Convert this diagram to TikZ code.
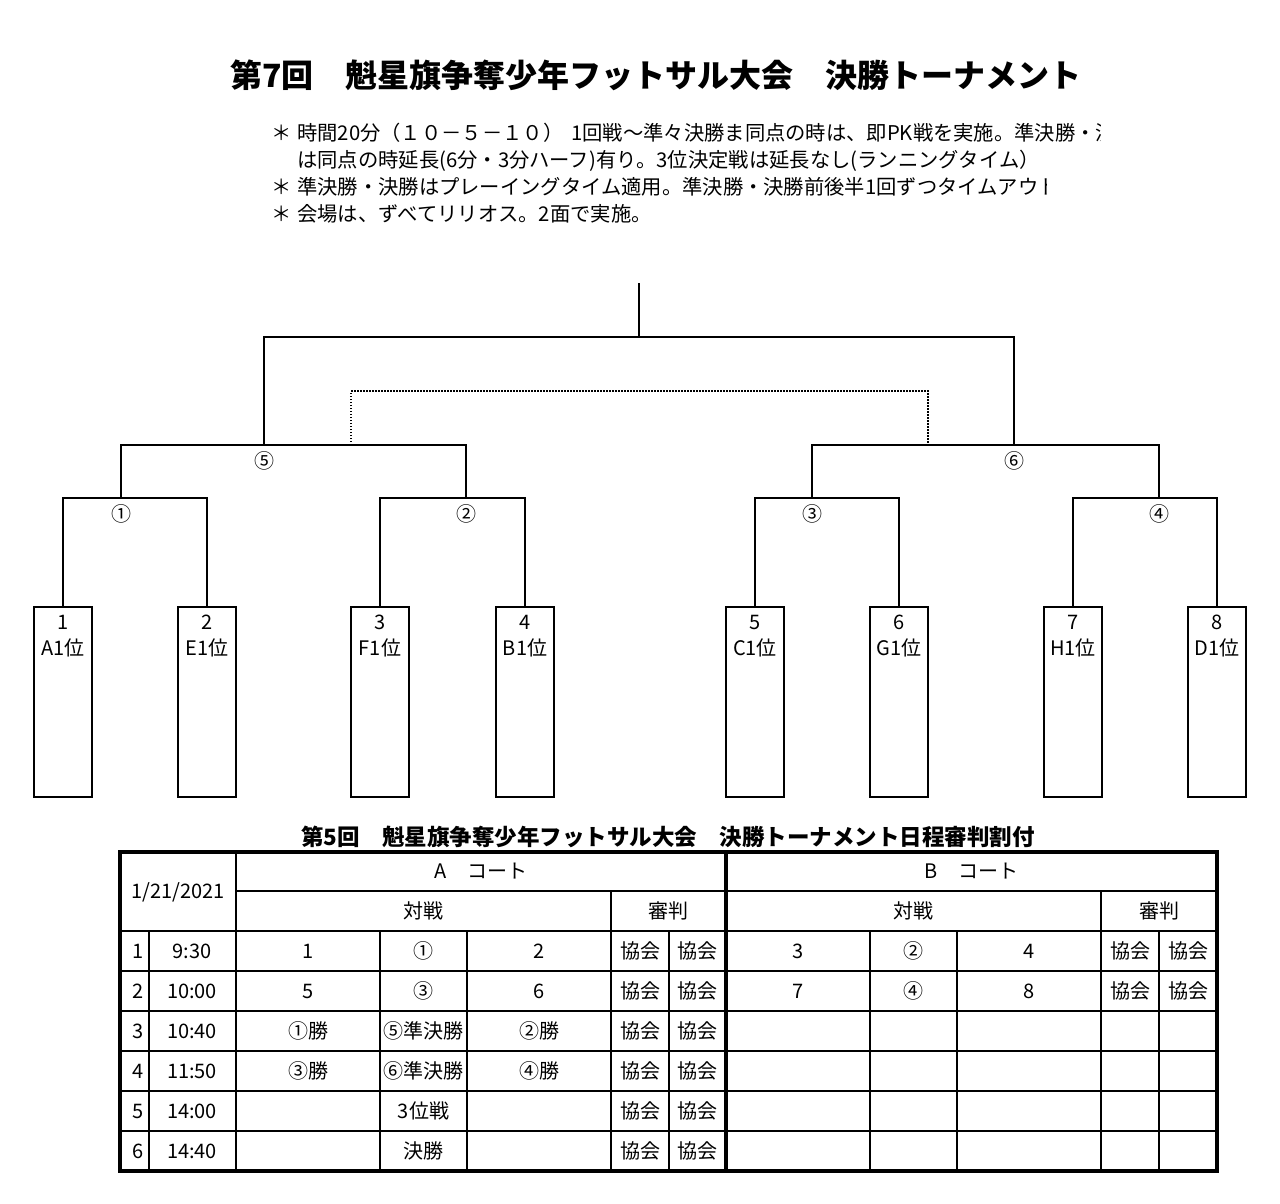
\documentclass[tikz,border=0pt]{standalone}
\usepackage{fontspec}
\setmainfont{Noto Sans CJK JP}
\usetikzlibrary{positioning}
\tikzset{
  every picture/.style={line join=miter},
  bracket/.style={line width=1.8pt},
  thirdplace/.style={line width=1.5pt, line cap=butt, dash pattern=on 1.5pt off 1.5pt},
  teambox/.style={draw, line width=1.8pt, minimum width=58pt, minimum height=190pt, inner sep=0pt},
  txt/.style={font=\fontsize{20}{24}\selectfont, inner sep=0pt, text height=17pt, text depth=3pt},
  notetxt/.style={txt, font=\fontsize{20.3}{24}\selectfont},
  matchno/.style={txt},
  tabline/.style={line width=1.8pt},
  tabframe/.style={line width=3.5pt},
}

\begin{document}
\begin{tikzpicture}[x=1pt, y=-1pt]
\useasboundingbox (0,0) rectangle (1280,1203);
% heading
\node[font=\fontsize{32}{36}\selectfont\bfseries, inner sep=0pt] (title) at (656,75)
  {第7回　魁星旗争奪少年フットサル大会　決勝トーナメント};
% notes
\node[notetxt] (ast1) at (282,133) {＊};
\node[notetxt] (ast3) at (282,187) {＊};
\node[notetxt] (ast4) at (282,214) {＊};
\begin{scope}
\clip (290,115) rectangle (1100,150);
\node[notetxt, anchor=west] (note1) at (297,133)
  {時間20分（１０－５－１０）\hspace{8pt}1回戦～準々決勝ま同点の時は、即PK戦を実施。準決勝・決};
\end{scope}
\node[notetxt, anchor=west] (note2) at (297,160)
  {は同点の時延長(6分・3分ハーフ)有り。3位決定戦は延長なし(ランニングタイム）};
\begin{scope}
\clip (290,172) rectangle (1046,202);
\node[notetxt, anchor=west] (note3) at (297,187)
  {準決勝・決勝はプレーイングタイム適用。準決勝・決勝前後半1回ずつタイムアウト};
\end{scope}
\node[notetxt, anchor=west] (note4) at (297,214) {会場は、ずべてリリオス。2面で実施。};

% teams
\foreach \i/\x/\team in {1/63/A1位, 2/207/E1位, 3/380/F1位, 4/525/B1位,
                         5/755/C1位, 6/899/G1位, 7/1073/H1位, 8/1217/D1位} {
  \node[teambox] (t\i) at (\x,702) {};
  \node[txt] (n\i) at (\x,622) {\i};
  \node[txt] (g\i) at (\x,648) {\team};
}
% first round
\coordinate (q1) at (121,498);
\coordinate (q2) at (466,498);
\coordinate (q3) at (812,498);
\coordinate (q4) at (1159,498);
\draw[bracket] (t1.north) |- (q1) -| (t2.north);
\draw[bracket] (t3.north) |- (q2) -| (t4.north);
\draw[bracket] (t5.north) |- (q3) -| (t6.north);
\draw[bracket] (t7.north) |- (q4) -| (t8.north);
% semi finals
\coordinate (s1) at (264,445);
\coordinate (s2) at (1014,445);
\draw[bracket] (q1) |- (s1) -| (q2);
\draw[bracket] (q3) |- (s2) -| (q4);
% final
\coordinate (fin) at (639,337);
\coordinate (top) at (639,283);
\draw[bracket] (s1) |- (fin) -| (s2);
\draw[bracket] (fin) -- (top);
% 3rd place
\coordinate (p1) at (351,445);
\coordinate (p2) at (928,445);
\coordinate (p3) at (639,391);
\draw[thirdplace] (p1) |- (p3) -| (p2);
% match numbers
\node[matchno] (m1) at (121,514) {①};
\node[matchno] (m2) at (466,514) {②};
\node[matchno] (m3) at (812,514) {③};
\node[matchno] (m4) at (1159,514) {④};
\node[matchno] (m5) at (264,461) {⑤};
\node[matchno] (m6) at (1014,461) {⑥};

% schedule
\node[font=\fontsize{22.5}{26}\selectfont\bfseries, inner sep=0pt] (subtitle) at (668,837)
  {第5回　魁星旗争奪少年フットサル大会　決勝トーナメント日程審判割付};
\draw[tabline] (236,891) -- (1217,891);
\foreach \y in {931,971,1011,1051,1091,1131}
  \draw[tabline] (120,\y) -- (1217,\y);
\draw[tabline] (236,852) -- (236,1171);
\foreach \x in {611,1101}
  \draw[tabline] (\x,891) -- (\x,1171);
\foreach \x in {149,380,467,669,870,957,1159}
  \draw[tabline] (\x,931) -- (\x,1171);
\draw[tabframe] (726,852) -- (726,1171);
\draw[tabframe] (120,852) rectangle (1217,1171);
% header
\node[txt] (date) at (178,891) {1/21/2021};
\node[txt] (courtA) at (481,871) {A　コート};
\node[txt] (vsA) at (423.5,911) {対戦};
\node[txt] (refA) at (668.5,911) {審判};
\node[txt] (courtB) at (971.5,871) {B　コート};
\node[txt] (vsB) at (913.5,911) {対戦};
\node[txt] (refB) at (1159,911) {審判};
% A court
\foreach \r/\kick/\home/\game/\away in {1/9:30/1/①/2, 2/10:00/5/③/6,
    3/10:40/①勝/⑤準決勝/②勝, 4/11:50/③勝/⑥準決勝/④勝,
    5/14:00//3位戦/, 6/14:40//決勝/} {
  \pgfmathsetmacro\y{911+40*\r}
  \node[txt, anchor=east] (no\r) at (144,\y) {\r};
  \node[txt] (tm\r) at (192,\y) {\kick};
  \node[txt] (ah\r) at (308,\y) {\home};
  \node[txt] (ag\r) at (423.5,\y) {\game};
  \node[txt] (aa\r) at (539,\y) {\away};
  \node[txt] (ra\r) at (640,\y) {協会};
  \node[txt] (rb\r) at (697.5,\y) {協会};
}
% B court
\foreach \r/\home/\game/\away in {1/3/②/4, 2/7/④/8} {
  \pgfmathsetmacro\y{911+40*\r}
  \node[txt] (bh\r) at (798,\y) {\home};
  \node[txt] (bg\r) at (913.5,\y) {\game};
  \node[txt] (ba\r) at (1029,\y) {\away};
  \node[txt] (rc\r) at (1130,\y) {協会};
  \node[txt] (rd\r) at (1188,\y) {協会};
}
\end{tikzpicture}
\end{document}
